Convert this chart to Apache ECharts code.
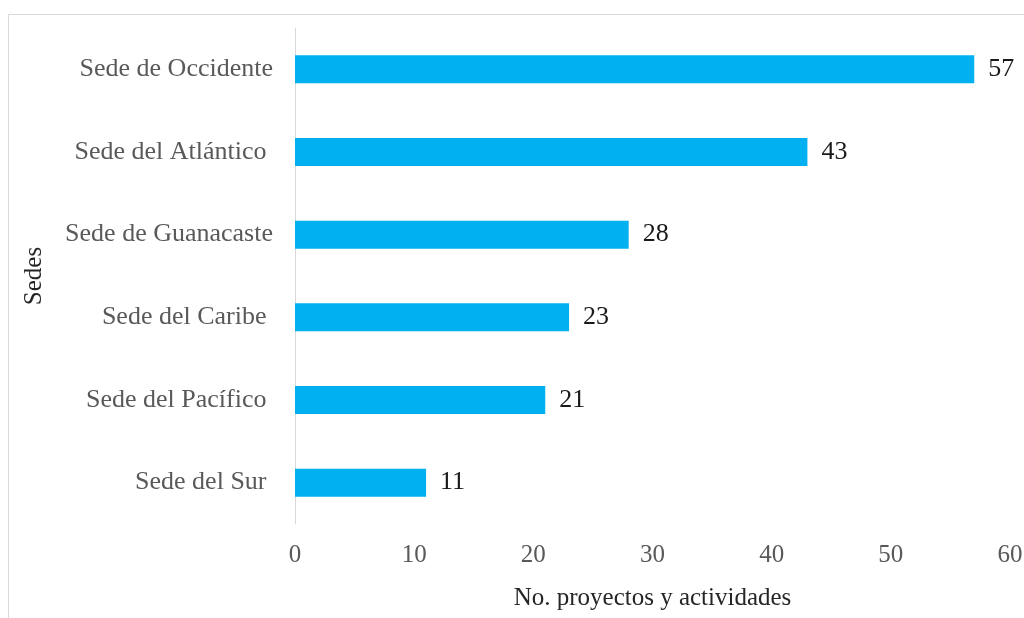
<!DOCTYPE html>
<html><head><meta charset="utf-8">
<script src="https://cdn.jsdelivr.net/npm/echarts@6/dist/echarts.min.js"></script>
<style>html,body{margin:0;padding:0;background:#fff}#c{width:1024px;height:618px}</style>
</head><body><div id="c"></div>
<script>
const categories = ["Sede del Sur ", "Sede del Pacífico ", "Sede del Caribe ", "Sede de Guanacaste", "Sede del Atlántico ", "Sede de Occidente"];
const values = [11, 21, 23, 28, 43, 57];
const xTicks = [0, 10, 20, 30, 40, 50, 60];
const xName = "No. proyectos y actividades";
const yName = "Sedes";

const font = "'Liberation Serif', 'Times New Roman', serif";
const chart = echarts.init(document.getElementById('c'));
chart.setOption({
  animation: false,
  graphic: [{
    type: 'rect', shape: {x: 8.5, y: 14.5, width: 1100, height: 700},
    style: {fill: 'none', stroke: '#d9d9d9', lineWidth: 1}, silent: true
  }],
  grid: {left: 295, right: 14, top: 28, bottom: 94, containLabel: false, outerBoundsMode: 'none'},
  xAxis: {
    type: 'value', min: xTicks[0], max: xTicks[xTicks.length - 1], interval: 10,
    name: xName, nameLocation: 'middle', nameGap: 62,
    nameTextStyle: {fontFamily: font, fontSize: 25, color: '#262626'},
    axisLine: {show: false}, axisTick: {show: false}, splitLine: {show: false},
    axisLabel: {fontFamily: font, fontSize: 25, color: '#595959', margin: 19}
  },
  yAxis: {
    type: 'category', data: categories,
    name: yName, nameLocation: 'middle', nameGap: 248, nameRotate: 90,
    nameTextStyle: {fontFamily: font, fontSize: 25, color: '#262626'},
    axisLine: {show: true, lineStyle: {color: '#d9d9d9', width: 1}},
    axisTick: {show: false},
    axisLabel: {fontFamily: font, fontSize: 26, color: '#595959', margin: 22}
  },
  series: [{
    type: 'bar', data: values, barWidth: 28,
    itemStyle: {color: '#00b0f0'},
    label: {show: true, position: 'right', distance: 14, fontFamily: font, fontSize: 26, color: '#1a1a1a'}
  }]
});
</script></body></html>
